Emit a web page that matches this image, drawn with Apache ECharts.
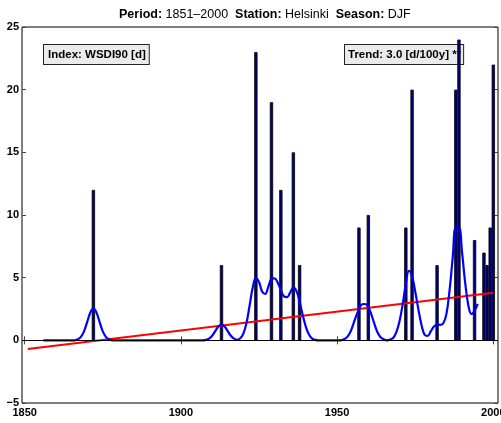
<!DOCTYPE html>
<html>
<head>
<meta charset="utf-8">
<script src="https://cdn.jsdelivr.net/npm/echarts@6/dist/echarts.min.js"></script>
<style>
  html, body { margin: 0; padding: 0; background: #fff; }
  #chart { width: 501px; height: 423px; }
</style>
</head>
<body>
<div id="chart"></div>
<script>
// WSDI90 yearly values (non-zero years only)
const barYears  = [1872, 1913, 1924, 1929, 1932, 1936, 1938, 1957, 1960, 1972, 1974, 1982, 1988, 1989, 1994, 1997, 1998, 1999, 2000];
const barValues = [12,   6,    23,   19,   12,   15,   6,    9,    10,   9,    20,   6,    20,   24,   8,    7,    6,    9,    22];

// smoothed curve, one value per year from 1856 to 1995
const smoothStart = 1856;
const smoothValues = [
  0, 0, 0, 0, 0, 0, 0, 0, 0, 0,                                   // 1856-1865
  0, 0.08, 0.28, 0.72, 1.45, 2.2, 2.55, 2.2, 1.45, 0.72,          // 1866-1875
  0.28, 0.08, 0, 0, 0, 0, 0, 0, 0, 0,                             // 1876-1885
  0, 0, 0, 0, 0, 0, 0, 0, 0, 0,                                   // 1886-1895
  0, 0, 0, 0, 0, 0, 0, 0, 0, 0,                                   // 1896-1905
  0, 0, 0.04, 0.14, 0.36, 0.73, 1.1, 1.26, 1.1, 0.73,             // 1906-1915
  0.36, 0.14, 0.04, 0.16, 0.53, 1.38, 2.78, 4.21, 4.98, 4.65,     // 1916-1925
  3.9, 3.7, 4.29, 4.9, 4.95, 4.6, 4.01, 3.5, 3.45, 3.83,          // 1926-1935
  4.2, 3.93, 3.08, 2.0, 1.08, 0.46, 0.14, 0.04, 0, 0,             // 1936-1945
  0, 0, 0, 0, 0, 0, 0.06, 0.21, 0.54, 1.16,                       // 1946-1955
  1.88, 2.49, 2.88, 2.9, 2.64, 2.04, 1.27, 0.6, 0.23, 0.07,       // 1956-1965
  0, 0.06, 0.21, 0.68, 1.55, 2.9, 4.5, 5.55, 5.1, 3.9,            // 1966-1975
  2.5, 1.25, 0.45, 0.35, 0.73, 1.1, 1.26, 1.24, 1.36, 2.11,       // 1976-1985
  4.0, 6.6, 9.0, 9.0, 7.0, 4.58, 2.8, 2.1, 2.35, 2.9              // 1986-1995
];

// linear trend end points
const trendYears  = [1851, 2000];
const trendValues = [-0.7, 3.8];

const xTicks = [1850, 1900, 1950, 2000];

const barData = barYears.map((y, i) => [y, barValues[i]]);
const smoothData = smoothValues.map((v, i) => [smoothStart + i, v]);
const trendData = trendYears.map((y, i) => [y, trendValues[i]]);

const chart = echarts.init(document.getElementById('chart'), null, { renderer: 'canvas' });

const labelFont = { fontFamily: 'Liberation Sans', fontWeight: 'bold', fontSize: 11, color: '#000' };

const option = {
  animation: false,
  title: {
    text: '{b|Period:} 1851–2000  {b|Station:} Helsinki  {b|Season:} DJF',
    left: 114,
    top: 3,
    textStyle: {
      fontFamily: 'Liberation Sans',
      fontSize: 12.5,
      fontWeight: 'normal',
      color: '#000',
      rich: {
        b: { fontFamily: 'Liberation Sans', fontSize: 12.5, fontWeight: 'bold', color: '#000' }
      }
    }
  },
  grid: {
    left: 22,
    right: 3,
    top: 27,
    bottom: 20,
    outerBoundsMode: 'none',
    containLabel: false,
    show: true,
    borderColor: '#000',
    borderWidth: 1,
    backgroundColor: 'transparent'
  },
  xAxis: [
    {
      type: 'value',
      min: 1849.15,
      max: 2001.5,
      position: 'bottom',
      axisLine: { show: false },
      splitLine: { show: false },
      axisTick: { inside: true, length: 4, lineStyle: { color: '#444' }, customValues: xTicks },
      axisLabel: Object.assign({ margin: 4, customValues: xTicks, formatter: v => String(v) }, labelFont)
    },
    {
      type: 'value',
      min: 1849.15,
      max: 2001.5,
      position: 'top',
      axisLine: { show: false },
      splitLine: { show: false },
      axisTick: { inside: true, length: 4, lineStyle: { color: '#444' }, customValues: xTicks },
      axisLabel: { show: false }
    }
  ],
  yAxis: [
    {
      type: 'value',
      min: -5,
      max: 25,
      interval: 5,
      position: 'left',
      axisLine: { show: false },
      splitLine: { show: false },
      axisTick: { inside: true, length: 4, lineStyle: { color: '#444' } },
      axisLabel: Object.assign({ margin: 3, formatter: v => (v < 0 ? '−' + (-v) : String(v)) }, labelFont)
    },
    {
      type: 'value',
      min: -5,
      max: 25,
      interval: 5,
      position: 'right',
      axisLine: { show: false },
      splitLine: { show: false },
      axisTick: { inside: true, length: 4, lineStyle: { color: '#444' } },
      axisLabel: { show: false }
    }
  ],
  graphic: [
    {
      type: 'text',
      z: 0,
      left: 43,
      top: 44,
      style: {
        text: 'Index: WSDI90 [d]',
        font: 'bold 11.5px "Liberation Sans"',
        fill: '#000',
        backgroundColor: '#ebebeb',
        borderColor: '#222',
        borderWidth: 1,
        padding: [4, 3, 3, 4]
      }
    },
    {
      type: 'text',
      z: 0,
      left: 344,
      top: 44,
      style: {
        text: 'Trend: 3.0 [d/100y] **',
        font: 'bold 11.5px "Liberation Sans"',
        fill: '#000',
        backgroundColor: '#ebebeb',
        borderColor: '#222',
        borderWidth: 1,
        padding: [4, 2, 3, 3]
      }
    }
  ],
  series: [
    {
      name: 'WSDI90',
      type: 'bar',
      data: barData,
      barWidth: 3.3,
      z: 2,
      itemStyle: { color: '#000080', borderColor: '#000', borderWidth: 0.8 },
      markLine: {
        silent: true,
        symbol: 'none',
        label: { show: false },
        lineStyle: { color: '#000', width: 1, type: 'solid' },
        data: [{ yAxis: 0 }]
      }
    },
    {
      name: 'Trend',
      type: 'line',
      data: trendData,
      showSymbol: false,
      z: 3,
      lineStyle: { color: '#ff0000', width: 2 }
    },
    {
      name: 'Smoothed',
      type: 'line',
      data: smoothData,
      smooth: 0.4,
      showSymbol: false,
      z: 4,
      lineStyle: { color: '#0000ff', width: 2.2 }
    }
  ]
};

chart.setOption(option);
</script>
</body>
</html>
